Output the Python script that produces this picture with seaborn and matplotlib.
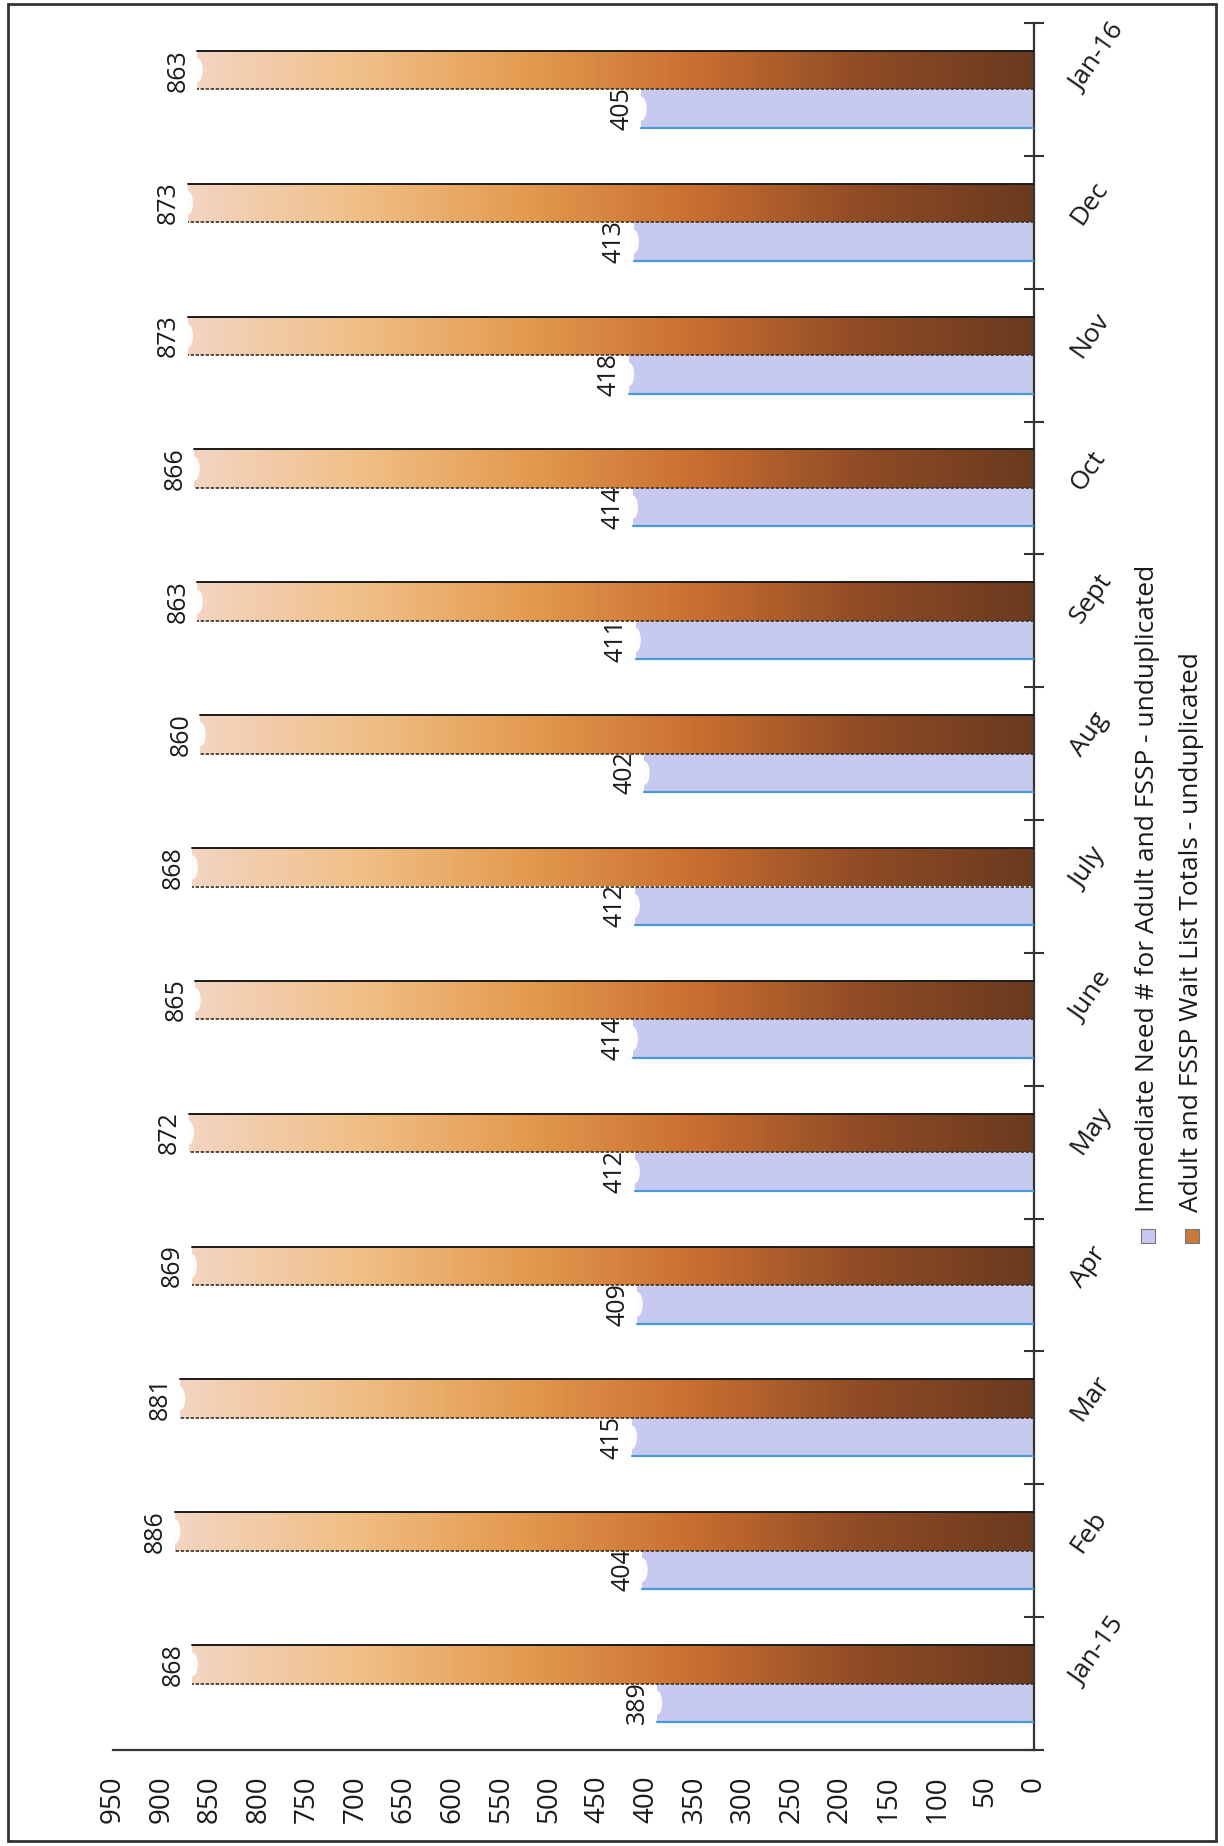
import numpy as np
import pandas as pd
import matplotlib
matplotlib.use("Agg")
import matplotlib.pyplot as plt
from matplotlib.colors import LinearSegmentedColormap
from matplotlib.patches import Rectangle, Ellipse
import seaborn as sns

# data
months = ["Jan-15", "Feb", "Mar", "Apr", "May", "June", "July",
          "Aug", "Sept", "Oct", "Nov", "Dec", "Jan-16"]
immediate = [389, 404, 415, 409, 412, 414, 412, 402, 411, 414, 418, 413, 405]
waitlist = [868, 886, 881, 869, 872, 865, 868, 860, 863, 866, 873, 873, 863]
value_ticks = list(range(0, 951, 50))

s_imm = "Immediate Need # for Adult and FSSP - unduplicated"
s_wait = "Adult and FSSP Wait List Totals - unduplicated"

df = pd.DataFrame({
    "month": months * 2,
    "value": immediate + waitlist,
    "series": [s_imm] * len(months) + [s_wait] * len(months),
})

blue = "#c8c9f0"
brown = "#c77a3a"
brown_cmap = LinearSegmentedColormap.from_list(
    "brown", ["#6a3a1f", "#8e4b25", "#c96e30", "#e39a4f", "#f0bf86", "#f3d5c2"])

sns.set_style("white")
plt.rcParams["font.family"] = ["Open Sans", "DejaVu Sans"]

W, H = 1224, 1846
fig = plt.figure(figsize=(W / 100, H / 100), dpi=100)
x0, x1, ytop, ybot = 113, 1034, 23, 1750
ax = fig.add_axes([x0 / W, 1 - ybot / H, (x1 - x0) / W, (ybot - ytop) / H])

# chart is printed sideways: values grow to the left, months go bottom -> top
sns.barplot(data=df, y="month", x="value", hue="series",
            order=months[::-1], hue_order=[s_wait, s_imm],
            palette=[brown, blue], orient="h", width=0.58, gap=0,
            saturation=1, errorbar=None, legend=False, ax=ax)

ax.set_xlim(950, 0)
ax.set_ylim(len(months) - 0.5, -0.5)

for p in list(ax.patches):
    x, y, w, h = p.get_x(), p.get_y(), p.get_width(), p.get_height()
    is_wait = np.allclose(p.get_facecolor()[:3], matplotlib.colors.to_rgb(brown))
    p.set_linewidth(0)
    if is_wait:
        grad = np.linspace(0, 1, 256).reshape(1, -1)
        im = ax.imshow(grad, extent=(x, x + w, y + h, y), aspect="auto",
                       cmap=brown_cmap, zorder=p.get_zorder() + 0.1)
        im.set_clip_path(p)
        ax.plot([x, x + w], [y, y], color="#1a1a1a", lw=1.4, zorder=4)
        ax.plot([x, x + w], [y + h, y + h], color="#3a3020", lw=1.2,
                ls=(0, (2, 1)), zorder=4)
    else:
        ax.plot([x, x + w], [y + h, y + h], color="#4a9ad8", lw=1.6, zorder=4)
    # white highlight at the end of each bar
    cap = Ellipse((x + w, y + h / 2), width=11, height=h * 0.62,
                  color="white", alpha=0.95, lw=0, zorder=5)
    ax.add_patch(cap)
    cap.set_clip_path(p)
    ax.annotate(str(int(round(w))), (x + w, y + h / 2), xytext=(-14, 0),
                textcoords="offset points", rotation=90, ha="center",
                va="center", fontsize=18, color="#1a1a1a")

for s in ["left", "top"]:
    ax.spines[s].set_visible(False)
for s in ["right", "bottom"]:
    ax.spines[s].set_color("#333333")
    ax.spines[s].set_linewidth(1.6)

ax.set_xticks(value_ticks)
ax.set_xticklabels([str(t) for t in value_ticks], rotation=90)
ax.tick_params(axis="x", direction="inout", length=15, width=1.5,
               labelsize=20, pad=11, colors="#1a1a1a")

ax.yaxis.tick_right()
ax.set_yticks(np.arange(-0.5, len(months), 1.0), minor=True)
ax.tick_params(axis="y", which="minor", direction="inout", length=14,
               width=1.5, right=True, left=False, color="#333333")
ax.tick_params(axis="y", which="major", length=0, pad=30, labelsize=19,
               colors="#1a1a1a")
for lab in ax.get_yticklabels():
    lab.set_rotation(55)
    lab.set_rotation_mode("anchor")
    lab.set_ha("left")
    lab.set_va("center")
ax.set_xlabel("")
ax.set_ylabel("")

# legend, written sideways like the rest of the page
leg = [(s_imm, blue, 1148), (s_wait, "#c87a3a", 1192)]
for text, col, xc in leg:
    fig.add_artist(Rectangle(((xc - 7) / W, 1 - 1243 / H), 14 / W, 14 / H,
                             transform=fig.transFigure, fc=col,
                             ec="#777777", lw=0.8))
    fig.text(xc / W, 1 - 1212 / H, text, rotation=90, ha="center",
             va="bottom", fontsize=19, color="#1a1a1a")

fig.add_artist(Rectangle((8 / W, 1 - 1841 / H), 1208 / W, 1837 / H,
                         transform=fig.transFigure, fill=False,
                         ec="#333333", lw=2))

fig.savefig("out.png", dpi=100)
